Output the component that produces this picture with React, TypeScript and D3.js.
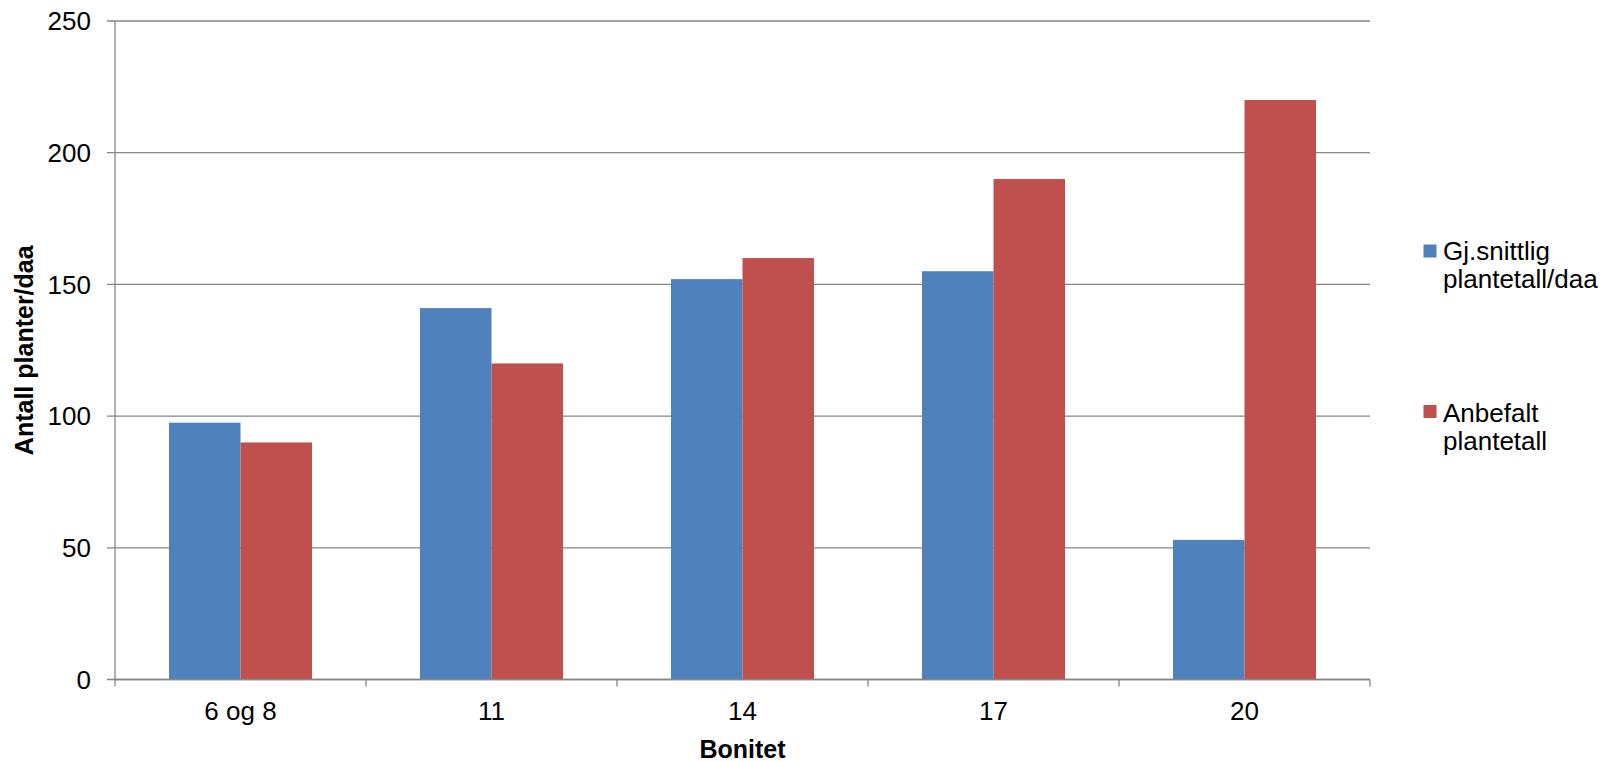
import React from "react";
import * as d3 from "d3";

const categories: string[] = ["6 og 8", "11", "14", "17", "20"];
const seriesNames: string[] = ["Gj.snittlig plantetall/daa", "Anbefalt plantetall"];
const legendLines: string[][] = [["Gj.snittlig", "plantetall/daa"], ["Anbefalt", "plantetall"]];
const gjsnittlig: number[] = [97.5, 141, 152, 155, 53];
const anbefalt: number[] = [90, 120, 160, 190, 220];
const yTicks: number[] = [0, 50, 100, 150, 200, 250];
const colors: string[] = ["#4F81BD", "#C0504D"];
const xTitle = "Bonitet";
const yTitle = "Antall planter/daa";

const W = 1616;
const H = 762;
const FONT = "'Liberation Sans', Arial, sans-serif";

export default function App() {
  const left = 115;
  const right = 1370;
  const top = 21;
  const bottom = 679.5;
  const seriesValues = [gjsnittlig, anbefalt];

  const x0 = d3.scaleBand<string>().domain(categories).range([left, right]).padding(0);
  const x1 = d3
    .scaleBand<string>()
    .domain(seriesNames)
    .range([0, x0.bandwidth()])
    .paddingInner(0)
    .paddingOuter(0.755);
  const y = d3.scaleLinear().domain([0, 250]).range([bottom, top]);

  const gridColor = "#868686";
  const boundaries = categories.map((c) => x0(c) as number).concat([right]);

  return (
    <svg
      width={W}
      height={H}
      style={{ position: "absolute", left: 0, top: 0, display: "block", background: "#fff" }}
      fontFamily={FONT}
    >
      {/* gridlines */}
      {yTicks.map((t) => (
        <line key={"g" + t} x1={107} x2={right} y1={y(t)} y2={y(t)} stroke={gridColor} strokeWidth={1.3} />
      ))}
      {/* bars */}
      {categories.map((c, ci) =>
        seriesNames.map((s, si) => {
          const v = seriesValues[si][ci];
          const bx = (x0(c) as number) + (x1(s) as number);
          return (
            <rect
              key={c + s}
              x={bx}
              y={y(v)}
              width={x1.bandwidth()}
              height={bottom - y(v)}
              fill={colors[si]}
            />
          );
        })
      )}
      {/* y axis */}
      <line x1={left} x2={left} y1={top} y2={bottom} stroke={gridColor} strokeWidth={1.3} />
      {/* x axis */}
      <line x1={left} x2={right} y1={bottom} y2={bottom} stroke={gridColor} strokeWidth={1.3} />
      {boundaries.map((bx, i) => (
        <line key={"xt" + i} x1={bx} x2={bx} y1={bottom} y2={bottom + 7} stroke={gridColor} strokeWidth={1.3} />
      ))}
      {/* y tick labels */}
      {yTicks.map((t) => (
        <text key={"yl" + t} x={91} y={y(t)} dy="0.36em" textAnchor="end" fontSize={26} fill="#000">
          {t}
        </text>
      ))}
      {/* x tick labels */}
      {categories.map((c) => (
        <text
          key={"xl" + c}
          x={(x0(c) as number) + x0.bandwidth() / 2}
          y={720}
          textAnchor="middle"
          fontSize={26}
          fill="#000"
        >
          {c}
        </text>
      ))}
      {/* axis titles */}
      <text x={(left + right) / 2} y={758} textAnchor="middle" fontSize={25} fontWeight="bold" fill="#000">
        {xTitle}
      </text>
      <text
        transform={`translate(33, ${(top + bottom) / 2}) rotate(-90)`}
        textAnchor="middle"
        fontSize={25}
        fontWeight="bold"
        fill="#000"
      >
        {yTitle}
      </text>
      {/* legend */}
      {legendLines.map((lines, i) => {
        const baseY = i === 0 ? 260 : 422;
        const sqY = i === 0 ? 244.5 : 405;
        return (
          <g key={"leg" + i}>
            <rect x={1423.5} y={sqY} width={13} height={13} fill={colors[i]} />
            {lines.map((ln, li) => (
              <text key={li} x={1443} y={baseY + li * 28} fontSize={26} fill="#000">
                {ln}
              </text>
            ))}
          </g>
        );
      })}
    </svg>
  );
}
